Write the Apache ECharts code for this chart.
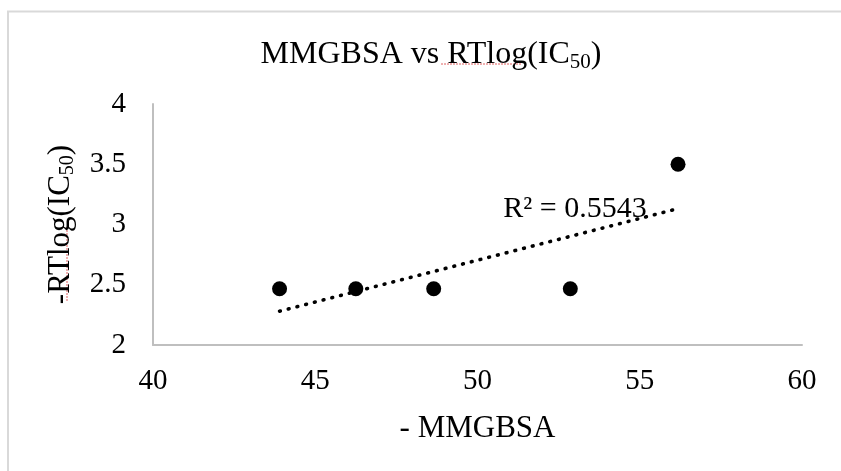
<!DOCTYPE html>
<html>
<head>
<meta charset="utf-8">
<script src="https://cdn.jsdelivr.net/npm/echarts@6/dist/echarts.min.js"></script>
<style>html,body{margin:0;padding:0;background:#fff;}#chart{width:841px;height:471px;}</style>
</head>
<body>
<div id="chart"></div>
<script>
// Data
var mmgbsa = [43.9, 46.25, 48.65, 52.86, 56.18];
var rtlog = [2.467, 2.467, 2.467, 2.467, 3.5];
var xTicks = [40, 45, 50, 55, 60];
var yTicks = [2, 2.5, 3, 3.5, 4];
var r2Text = 'R² = 0.5543';

// Linear trend line (least squares) computed from the data
function linReg(xs, ys) {
  var n = xs.length, mx = 0, my = 0;
  for (var i = 0; i < n; i++) { mx += xs[i]; my += ys[i]; }
  mx /= n; my /= n;
  var sxy = 0, sxx = 0;
  for (var j = 0; j < n; j++) { sxy += (xs[j] - mx) * (ys[j] - my); sxx += (xs[j] - mx) * (xs[j] - mx); }
  var b = sxy / sxx;
  return { slope: b, intercept: my - b * mx };
}
var fit = linReg(mmgbsa, rtlog);
var xmin = Math.min.apply(null, mmgbsa), xmax = Math.max.apply(null, mmgbsa);
var trend = [[xmin, fit.intercept + fit.slope * xmin], [xmax, fit.intercept + fit.slope * xmax]];

var points = mmgbsa.map(function (x, i) { return [x, rtlog[i]]; });

var FONT = '"Liberation Serif", "Times New Roman", serif';
var richTitle = {
  a: { fontFamily: FONT, fontSize: 32, fontWeight: 'normal', color: '#000', lineHeight: 36 },
  s: { fontFamily: FONT, fontSize: 21, fontWeight: 'normal', color: '#000', lineHeight: 36, padding: [14, 0, 0, 0] }
};
var richSub = {
  a: { fontFamily: FONT, fontSize: 31, fontWeight: 'normal', color: '#000', lineHeight: 36 },
  s: { fontFamily: FONT, fontSize: 20, fontWeight: 'normal', color: '#000', lineHeight: 36, padding: [14, 0, 0, 0] }
};
var chart = echarts.init(document.getElementById('chart'), null, { renderer: 'canvas' });
chart.setOption({
  backgroundColor: '#ffffff',
  animation: false,
  title: {
    text: '{a|MMGBSA vs RTlog(IC}{s|50}{a|)}',
    left: 426,
    top: 32,
    textAlign: 'center',
    textStyle: { fontFamily: FONT, fontWeight: 'normal', color: '#000', rich: richTitle }
  },
  grid: { left: 153, right: 39, top: 104, bottom: 126, containLabel: false },
  xAxis: {
    type: 'value',
    min: xTicks[0],
    max: xTicks[xTicks.length - 1],
    interval: xTicks[1] - xTicks[0],
    name: '- MMGBSA',
    nameLocation: 'middle',
    nameGap: 68,
    nameTextStyle: { fontFamily: FONT, fontSize: 31, color: '#000' },
    axisLine: { show: true, lineStyle: { color: '#bfbfbf', width: 2 } },
    axisTick: { show: false },
    splitLine: { show: false },
    axisLabel: { fontFamily: FONT, fontSize: 29, color: '#000', margin: 22 }
  },
  yAxis: {
    type: 'value',
    min: yTicks[0],
    max: yTicks[yTicks.length - 1],
    interval: yTicks[1] - yTicks[0],
    name: '{a|-RTlog(IC}{s|50}{a|)}',
    nameLocation: 'middle',
    nameRotate: 90,
    nameGap: 74,
    nameTextStyle: { fontFamily: FONT, color: '#000', rich: richSub },
    axisLine: { show: true, lineStyle: { color: '#bfbfbf', width: 2 } },
    axisTick: { show: false },
    splitLine: { show: false },
    axisLabel: { fontFamily: FONT, fontSize: 29, color: '#000', margin: 27 }
  },
  series: [
    {
      type: 'line',
      data: trend,
      symbol: 'none',
      lineStyle: { color: '#000', width: 3.6, type: [0.8, 8.2], cap: 'round', opacity: 1 },
      silent: true,
      z: 2
    },
    {
      type: 'scatter',
      data: points,
      symbol: 'circle',
      symbolSize: 15,
      itemStyle: { color: '#000', opacity: 1 },
      z: 3
    }
  ],
  graphic: [
    {
      type: 'rect',
      shape: { x: 8, y: 11.5, width: 1000, height: 1000 },
      style: { fill: 'none', stroke: '#d9d9d9', lineWidth: 2 },
      silent: true,
      z: -1
    },
    {
      type: 'text',
      x: 575,
      y: 209,
      style: {
        text: r2Text,
        font: '30px ' + FONT,
        fill: '#000',
        textAlign: 'center',
        textVerticalAlign: 'middle'
      },
      z: 10
    },
    {
      type: 'line',
      shape: { x1: 441, y1: 64, x2: 522, y2: 64 },
      style: { stroke: '#e06060', lineWidth: 1, lineDash: [2, 1] },
      silent: true
    },
    {
      type: 'line',
      shape: { x1: 67, y1: 227, x2: 67, y2: 302 },
      style: { stroke: '#e06060', lineWidth: 1, lineDash: [2, 1] },
      silent: true
    }
  ]
});
</script>
</body>
</html>
